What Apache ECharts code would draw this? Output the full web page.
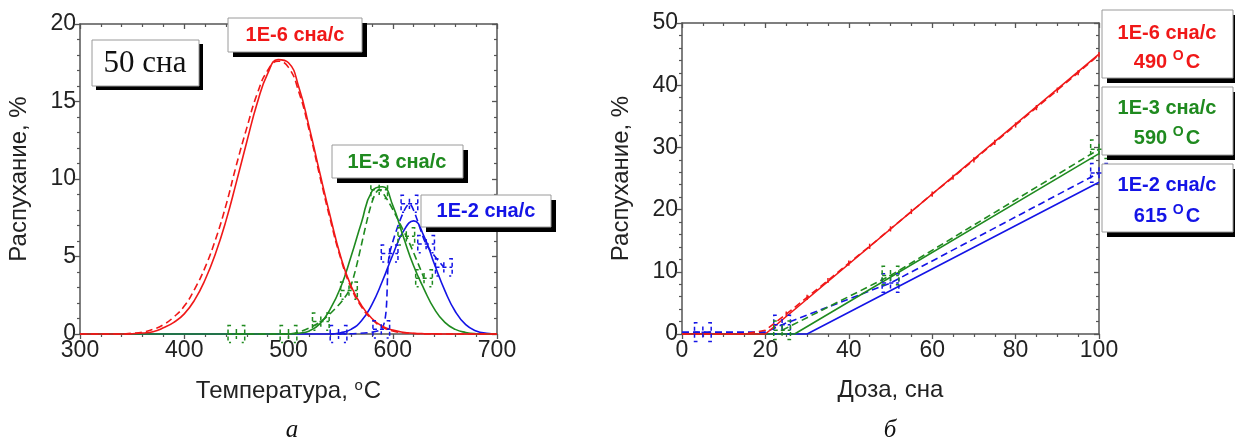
<!DOCTYPE html>
<html>
<head>
<meta charset="utf-8">
<script src="https://cdn.jsdelivr.net/npm/echarts@6/dist/echarts.min.js"></script>
<style>
  html, body { margin: 0; padding: 0; background: #fff; }
  #chart { width: 1235px; height: 443px; }
</style>
</head>
<body>
<div id="chart"></div>
<script>
// ---- panel "а": swelling vs temperature at 50 dpa ----
const tempC = [300, 310, 320, 330, 340, 350, 360, 370, 380, 390, 400, 410, 420, 430, 440, 450, 460, 470, 480, 490,
               500, 510, 520, 530, 540, 550, 560, 570, 580, 590, 600, 610, 620, 630, 640, 650, 660, 670, 680, 690, 700];
const swellCalc6 = [0, 0, 0, 0, 0, 0.02, 0.06, 0.15, 0.4, 0.75, 1.3, 2.2, 3.5, 5.2, 7.3, 9.8, 12.4, 14.9, 16.8, 17.7,
                    17.5, 15.9, 13.3, 10.4, 7.6, 5.0, 3.1, 1.85, 1.0, 0.5, 0.25, 0.11, 0.05, 0.02, 0.01, 0, 0, 0, 0, 0, 0];
const swellFit6 = [0, 0, 0, 0, 0, 0.05, 0.12, 0.3, 0.6, 1.1, 1.8, 2.9, 4.3, 6.1, 8.3, 10.9, 13.3, 15.5, 17.0, 17.6,
                   17.2, 15.6, 13.1, 10.2, 7.4, 4.9, 3.0, 1.75, 0.95, 0.45, 0.2, 0.08, 0.03, 0.01, 0, 0, 0, 0, 0, 0, 0];
const swellCalc3 = [0, 0, 0, 0, 0, 0, 0, 0, 0, 0, 0, 0, 0, 0, 0, 0, 0, 0, 0, 0,
                    0, 0.05, 0.2, 0.65, 1.6, 3.0, 5.0, 7.2, 9.2, 9.5, 8.3, 6.3, 4.4, 2.9, 1.6, 0.75, 0.3, 0.1, 0.02, 0, 0];
const swellCalc2 = [0, 0, 0, 0, 0, 0, 0, 0, 0, 0, 0, 0, 0, 0, 0, 0, 0, 0, 0, 0,
                    0, 0, 0, 0, 0, 0.08, 0.3, 0.85, 1.9, 3.4, 5.1, 6.6, 7.3, 6.3, 4.5, 2.8, 1.45, 0.6, 0.2, 0.05, 0];
// measured points with error bars
const tempExp3 = [450, 500, 531, 558, 587, 613, 630];
const swellExp3 = [0, 0, 0.8, 2.8, 9.3, 6.3, 3.6];
const tempExp2 = [548, 589, 597, 616, 632, 649];
const swellExp2 = [0, 0.3, 5.2, 8.4, 5.8, 4.3];

// ---- panel "б": swelling vs dose ----
const doseCalc6 = [0, 20, 100];
const swellDoseCalc6 = [0, 0, 45.0];
const doseFit6 = [0, 5, 10, 15, 20, 25, 30, 35, 40, 45, 50, 55, 60, 65, 70, 75, 80, 85, 90, 95, 100];
const swellDoseFit6 = [0, 0, 0, 0, 0.6, 3.2, 5.9, 8.6, 11.4, 14.1, 16.9, 19.7, 22.5, 25.2, 28.0, 30.8, 33.6, 36.4, 39.2, 42.0, 44.9];
const doseCalc3 = [0, 27, 100];
const swellDoseCalc3 = [0, 0, 29.0];
const doseExp3 = [24, 50, 100];
const swellDoseExp3 = [0.6, 9.4, 29.7];
const doseCalc2 = [0, 30, 100];
const swellDoseCalc2 = [0, 0, 24.4];
const doseExp2 = [0, 5, 20, 24, 50, 100];
const swellDoseExp2 = [0.3, 0.3, 0.3, 1.5, 8.2, 25.9];
const doseBars2 = [5, 24, 50, 100];
const swellBars2 = [0.3, 1.5, 8.2, 25.9];

const RED = '#f01818', GREEN = '#1f8a1f', BLUE = '#1414e6';
const FONT = '"Liberation Sans", Arial, sans-serif';
const AXIS_COL = '#555';

const zip = (xs, ys) => xs.map((x, i) => [x, ys[i]]);

function errorBars(gi, data, ex, ey, color, dash, caps) {
  return {
    type: 'custom', xAxisIndex: gi * 2, yAxisIndex: gi * 2, z: 4, clip: false,
    data: data,
    renderItem: (params, api) => {
      const x = api.value(0), y = api.value(1);
      const c = api.coord([x, y]);
      const l = api.coord([x - ex, y])[0];
      const r = api.coord([x + ex, y])[0];
      const h = api.size([0, ey])[1];
      const st = { stroke: color, lineWidth: 1.5, fill: null, lineDash: dash };
      const k = Math.min(3, (r - l) / 4);
      const children = [
        { type: 'line', shape: { x1: c[0], y1: c[1] - h * 0.6, x2: c[0], y2: c[1] + h * 0.6 }, style: st }
      ];
      if (caps) {
        children.push(
          { type: 'line', shape: { x1: l, y1: c[1], x2: r, y2: c[1] }, style: st },
          { type: 'polyline', shape: { points: [[l + k, c[1] - h], [l, c[1] - h], [l, c[1] + h], [l + k, c[1] + h]] }, style: st },
          { type: 'polyline', shape: { points: [[r - k, c[1] - h], [r, c[1] - h], [r, c[1] + h], [r - k, c[1] + h]] }, style: st }
        );
      }
      return { type: 'group', children: children };
    }
  };
}

function lineSeries(gi, data, color, dashed, smooth) {
  return {
    type: 'line', xAxisIndex: gi * 2, yAxisIndex: gi * 2, data: data,
    showSymbol: false, smooth: smooth, z: 3, clip: false,
    lineStyle: { color: color, width: 1.6, type: dashed ? [7, 4] : 'solid' },
    emphasis: { disabled: true }
  };
}

function mainX(gi, min, max, interval, split, name) {
  return {
    type: 'value', gridIndex: gi, min: min, max: max, interval: interval, position: 'bottom',
    name: name, nameLocation: 'middle', nameGap: 44,
    nameTextStyle: { fontFamily: FONT, fontSize: 24, color: '#222',
      rich: { sup: { fontFamily: FONT, fontSize: 15, color: '#222', verticalAlign: 'top', padding: [0, 1, 12, 0] } } },
    axisLine: { show: true, onZero: false, lineStyle: { color: AXIS_COL, width: 1.5 } },
    axisTick: { show: true, length: 5, lineStyle: { color: AXIS_COL, width: 1.3 } },
    minorTick: { show: true, splitNumber: split, length: 3, lineStyle: { color: AXIS_COL, width: 1.2 } },
    axisLabel: { fontFamily: FONT, fontSize: 23, color: '#222', margin: 5 },
    splitLine: { show: false }
  };
}
function mainY(gi, min, max, interval, split, name) {
  return {
    type: 'value', gridIndex: gi, min: min, max: max, interval: interval, position: 'left',
    name: name, nameLocation: 'middle', nameGap: 49, nameRotate: 90,
    nameTextStyle: { fontFamily: FONT, fontSize: 24, color: '#222' },
    axisLine: { show: true, onZero: false, lineStyle: { color: AXIS_COL, width: 1.5 } },
    axisTick: { show: true, length: 5, lineStyle: { color: AXIS_COL, width: 1.3 } },
    minorTick: { show: true, splitNumber: split, length: 3, lineStyle: { color: AXIS_COL, width: 1.2 } },
    axisLabel: { fontFamily: FONT, fontSize: 23, color: '#222', margin: 4 },
    splitLine: { show: false }
  };
}
function mirror(base, pos) {
  return Object.assign({}, base, {
    position: pos, name: '',
    axisLabel: { show: false },
    axisTick: Object.assign({}, base.axisTick, { inside: true }),
    minorTick: Object.assign({}, base.minorTick)
  });
}

const xA = mainX(0, 300, 700, 100, 5, 'Температура, {sup|o}C');
const yA = mainY(0, 0, 20, 5, 5, 'Распухание, %');
const xB = mainX(1, 0, 100, 20, 4, 'Доза, сна');
const yB = mainY(1, 0, 50, 10, 5, 'Распухание, %');

function box(x, y, w, h, off) {
  return [
    { type: 'rect', shape: { x: x + off, y: y + off, width: w, height: h }, style: { fill: '#000' }, z: 10 },
    { type: 'rect', shape: { x: x, y: y, width: w, height: h }, style: { fill: '#fff', stroke: '#9a9a9a', lineWidth: 1 }, z: 11 }
  ];
}
function label(x, y, text, color, size, family, weight, rich) {
  return { type: 'text', x: x, y: y, z: 12,
    style: { text: text, fill: color, font: weight + ' ' + size + 'px ' + family, align: 'center', verticalAlign: 'middle', rich: rich } };
}
const supRich = (color) => ({ sup: { fill: color, font: 'bold 14px ' + FONT, verticalAlign: 'top', padding: [0, 2, 12, 0] } });

const graphics = [].concat(
  box(92, 40, 107, 46, 4),
  [label(145, 64, '50 сна', '#111', 31, '"Liberation Serif", "Times New Roman", serif', 'normal')],
  box(228, 18, 134, 34, 5),
  [label(295, 35, '1E-6 сна/с', RED, 20, FONT, 'bold')],
  box(332, 145, 131, 33, 5),
  [label(397, 162, '1E-3 сна/с', GREEN, 20, FONT, 'bold')],
  box(421, 195, 130, 32, 5),
  [label(486, 211, '1E-2 сна/с', BLUE, 20, FONT, 'bold')],
  box(1102, 10, 131, 68, 5),
  [label(1167, 33, '1E-6 сна/с', RED, 20, FONT, 'bold'),
   label(1167, 62, '490 {sup|O}C', RED, 20, FONT, 'bold', supRich(RED))],
  box(1102, 87, 131, 68, 5),
  [label(1167, 108, '1E-3 сна/с', GREEN, 20, FONT, 'bold'),
   label(1167, 138, '590 {sup|O}C', GREEN, 20, FONT, 'bold', supRich(GREEN))],
  box(1102, 164, 131, 68, 5),
  [label(1167, 185, '1E-2 сна/с', BLUE, 20, FONT, 'bold'),
   label(1167, 216, '615 {sup|O}C', BLUE, 20, FONT, 'bold', supRich(BLUE))],
  [label(292, 430, 'а', '#111', 25, '"Liberation Serif", "Times New Roman", serif', 'italic'),
   label(890, 430, 'б', '#111', 25, '"Liberation Serif", "Times New Roman", serif', 'italic')]
);

const chart = echarts.init(document.getElementById('chart'), null, { renderer: 'canvas' });
chart.setOption({
  animation: false,
  backgroundColor: '#fff',
  grid: [
    { left: 80, top: 24, width: 417, height: 310 },
    { left: 682, top: 23, width: 417, height: 311 }
  ],
  xAxis: [xA, mirror(xA, 'top'), xB, Object.assign(mirror(xB, 'top'), { gridIndex: 1 })],
  yAxis: [yA, mirror(yA, 'right'), yB, Object.assign(mirror(yB, 'right'), { gridIndex: 1 })],
  series: [
    // panel а
    lineSeries(0, zip(tempC, swellCalc2), BLUE, false, true),
    lineSeries(0, zip(tempExp2, swellExp2), BLUE, true, 0.25),
    errorBars(0, zip(tempExp2, swellExp2), 8, 0.55, BLUE, [4, 3], true),
    lineSeries(0, zip(tempC, swellCalc3), GREEN, false, true),
    lineSeries(0, zip(tempExp3, swellExp3), GREEN, true, 0.25),
    errorBars(0, zip(tempExp3, swellExp3), 8, 0.55, GREEN, [4, 3], true),
    lineSeries(0, zip(tempC, swellFit6), RED, true, true),
    lineSeries(0, zip(tempC, swellCalc6), RED, false, true),
    // panel б
    lineSeries(1, zip(doseCalc2, swellDoseCalc2), BLUE, false, false),
    lineSeries(1, zip(doseExp2, swellDoseExp2), BLUE, true, false),
    errorBars(1, zip(doseBars2, swellBars2), 2, 1.5, BLUE, [4, 3], true),
    lineSeries(1, zip(doseCalc3, swellDoseCalc3), GREEN, false, false),
    lineSeries(1, zip(doseExp3, swellDoseExp3), GREEN, true, false),
    errorBars(1, zip(doseExp3, swellDoseExp3), 2, 1.5, GREEN, [4, 3], true),
    lineSeries(1, zip(doseFit6, swellDoseFit6), RED, true, false),
    errorBars(1, zip(doseFit6.slice(5), swellDoseFit6.slice(5)), 0.5, 0.7, RED, null, false),
    lineSeries(1, zip(doseCalc6, swellDoseCalc6), RED, false, false)
  ],
  graphic: { elements: graphics }
});
</script>
</body>
</html>
